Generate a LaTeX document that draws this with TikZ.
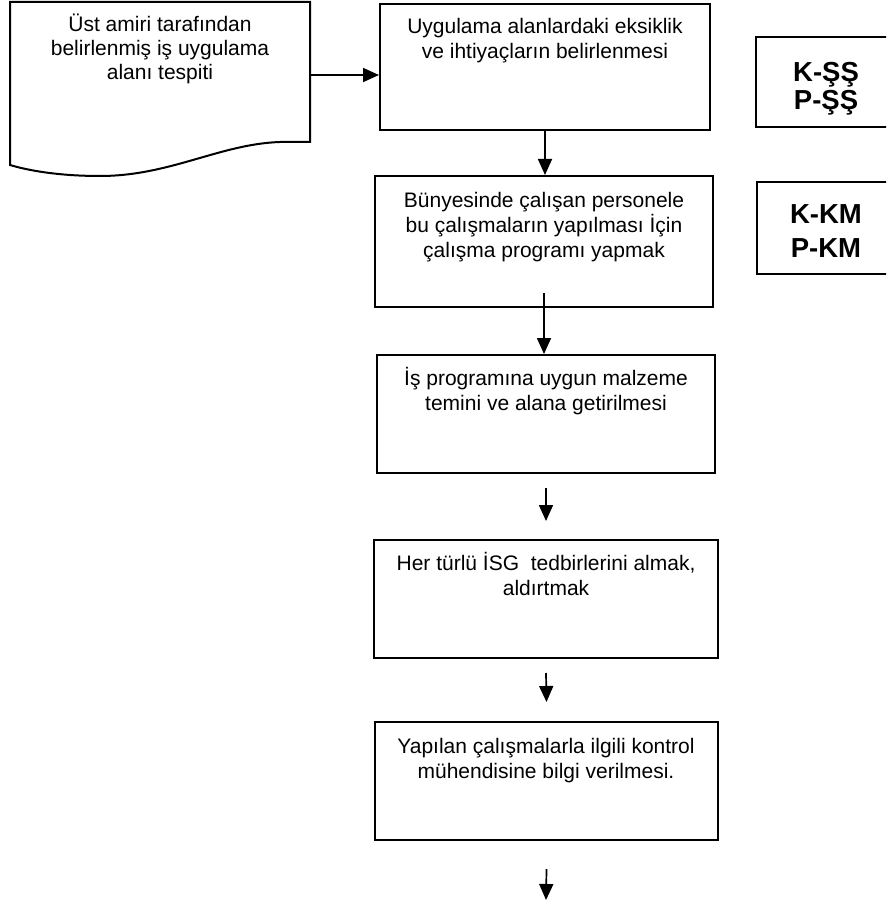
\documentclass[tikz,border=0pt]{standalone}
\usepackage{fontspec}
\setmainfont{Liberation Sans}
\usetikzlibrary{arrows.meta}
\begin{document}
\begin{tikzpicture}[x=1pt,y=-1pt,
  box/.style={draw, line width=2pt, inner sep=0pt},
  txt/.style={align=center, anchor=base, inner sep=0pt, font=\fontsize{21}{25}\selectfont},
  lab/.style={align=center, anchor=base, inner sep=0pt, font=\fontsize{27.5}{32}\selectfont\bfseries},
  arr/.style={line width=1.7pt, -{Triangle[length=16pt,width=14pt]}}]
\useasboundingbox[fill=white] (0,0) rectangle (886,904);
\clip (0,0) rectangle (886,904);
% document shape
\draw[line width=2pt, line join=miter] (10,2) -- (310,2) -- (310,142) -- (280,142)
  .. controls (220,144) and (170,176) .. (100,176)
  .. controls (50,176) and (20,168) .. (10,165) -- cycle;
\coordinate (docR) at (310,75);
% (anchor=base of a multi-line node = baseline of its last line)
\node[txt] (dt) at (160,80) {Üst amiri tarafından\\[-1pt]belirlenmiş iş uygulama\\[-1pt]alanı tespiti};
% main boxes
\node[box, minimum width=330pt, minimum height=126pt] (b1) at (545,67) {};
\node[box, minimum width=338pt, minimum height=131pt] (b2) at (544,241.5) {};
\node[box, minimum width=338pt, minimum height=118pt] (b3) at (546,414) {};
\node[box, minimum width=344pt, minimum height=118pt] (b4) at (546,599) {};
\node[box, minimum width=343pt, minimum height=118pt] (b5) at (546.5,781) {};
\node[txt] (t1) at (545,59) {Uygulama alanlardaki eksiklik\\ve ihtiyaçların belirlenmesi};
\node[txt] (t2) at (544,257) {Bünyesinde çalışan personele\\bu çalışmaların yapılması İçin\\çalışma programı yapmak};
\node[txt] (t3) at (546,410) {İş programına uygun malzeme\\temini ve alana getirilmesi};
\node[txt] (t4) at (546,595) {Her türlü İSG\ \ tedbirlerini almak,\\aldırtmak};
\node[txt] (t5) at (546,778) {Yapılan çalışmalarla ilgili kontrol\\mühendisine bilgi verilmesi.};
% right label boxes
\node[box, minimum width=144pt, minimum height=90pt] (r1) at (828,82) {};
\node[box, minimum width=143pt, minimum height=92pt] (r2) at (828.5,228) {};
\node[lab] (l1) at (826,110) {K-ŞŞ\\[-4pt]P-ŞŞ};
\node[lab] (l2) at (826,257) {K-KM\\[2pt]P-KM};
% connectors
\coordinate (end) at (546,900);
\draw[arr] (docR) -- (b1.west |- docR);
\draw[arr] (b1.south) -- (b1.south |- b2.north);
\draw[arr] ([yshift=15pt]b2.south) -- (b2.south |- b3.north);
\draw[arr] ([yshift=-14pt]b3.south) -- ([yshift=18pt]b4.north);
\draw[arr] ([yshift=-14pt]b4.south) -- ([yshift=19pt]b5.north);
\draw[arr] ([yshift=-28pt]b5.south) -- (end);
\end{tikzpicture}
\end{document}
